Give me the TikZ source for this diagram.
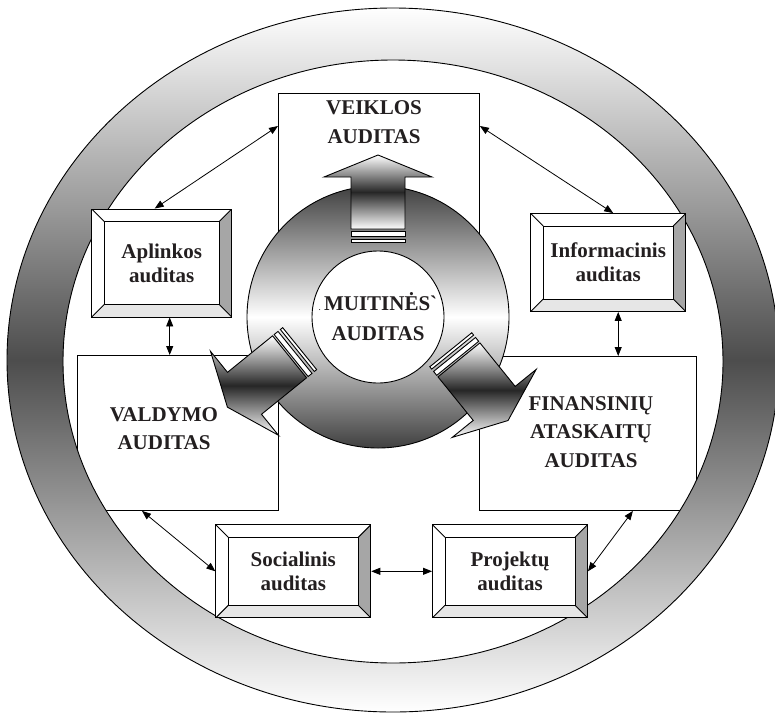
\documentclass[tikz,border=0pt]{standalone}
\usepackage{fontspec}
\setmainfont{Liberation Serif}
\usetikzlibrary{arrows.meta,calc}
\definecolor{ink}{HTML}{231F20}
\definecolor{bevelside}{HTML}{A6A6A6}
\definecolor{bevelfoot}{HTML}{E6E6E6}
\begin{document}
\begin{tikzpicture}[x=1pt, y=-1pt, line width=0.9pt,
    bigbox/.style={draw, fill=white, anchor=north west, inner sep=0pt},
    bigtext/.style={inner sep=0pt, align=center, text=ink,
      font=\fontsize{21}{28.5}\selectfont\bfseries},
    bevelbox/.style={draw, fill=white, inner sep=0pt, align=center, text=ink,
      font=\fontsize{21}{24}\selectfont\bfseries,
      path picture={
        \path (path picture bounding box.north west) coordinate (bNW)
              (path picture bounding box.north east) coordinate (bNE)
              (path picture bounding box.south west) coordinate (bSW)
              (path picture bounding box.south east) coordinate (bSE);
        \path ($(bNW)+(12.5pt,-12.5pt)$) coordinate (iNW)
              ($(bNE)+(-12.5pt,-12.5pt)$) coordinate (iNE)
              ($(bSW)+(12.5pt,12.5pt)$) coordinate (iSW)
              ($(bSE)+(-12.5pt,12.5pt)$) coordinate (iSE);
        \fill[bevelside] (bNE) -- (bSE) -- (iSE) -- (iNE) -- cycle;
        \fill[bevelfoot] (bSW) -- (bSE) -- (iSE) -- (iSW) -- cycle;
        \draw[line width=0.9pt] (iNW) rectangle (iSE);
        \draw[line width=0.9pt] (bNW) -- (iNW) (bNE) -- (iNE)
          (bSW) -- (iSW) (bSE) -- (iSE);
      }},
    link/.style={<->, >={Triangle[length=9pt,width=7pt]}, line width=0.8pt},
    arrowshade/.style={draw, top color=white, bottom color=white, middle color=black!85},
  ]
  \fill[white] (0,0) rectangle (775,715);
  \useasboundingbox (0,0) rectangle (775,715);

  % large audit areas
  \node[bigbox, minimum width=201pt, minimum height=224pt] (veiklos) at (278,93) {};
  \node[bigbox, minimum width=201pt, minimum height=155pt] (valdymo) at (77,355) {};
  \node[bigbox, minimum width=217pt, minimum height=154pt] (finansiniu) at (479,356) {};

  % outer ring
  \shadedraw[even odd rule, top color=white, bottom color=white, middle color=black!70]
    (393,360) ellipse [x radius=386, y radius=352]
    (393,361.5) ellipse [x radius=330, y radius=301.5];

  \node[bigtext] (veiklostxt) at (374,122) {VEIKLOS\\AUDITAS};
  \node[bigtext] (valdymotxt) at (164,428.5) {VALDYMO\\AUDITAS};
  \node[bigtext] (finansiniutxt) at (591,432) {FINANSINIŲ\\ATASKAITŲ\\AUDITAS};

  % small audit areas
  \node[bevelbox, minimum width=140pt, minimum height=108pt] (aplinkos) at (161.7,263) {Aplinkos\\auditas};
  \node[bevelbox, minimum width=155pt, minimum height=98pt] (informacinis) at (608.2,262.5) {Informacinis\\auditas};
  \node[bevelbox, minimum width=155pt, minimum height=93pt] (socialinis) at (293.3,571.3) {Socialinis\\auditas};
  \node[bevelbox, minimum width=155pt, minimum height=93pt] (projektu) at (510,571.3) {Projektų\\auditas};

  \draw[link] ([yshift=-33pt]veiklos.north west) -- ([xshift=-7pt]aplinkos.north);
  \draw[link] ([yshift=-33pt]veiklos.north east) -- ([xshift=5pt]informacinis.north);
  \draw[link] ([xshift=8pt]aplinkos.south) -- ([xshift=8pt]aplinkos.south |- valdymo.north);
  \draw[link] ([xshift=10pt]informacinis.south) -- ([xshift=10pt]informacinis.south |- finansiniu.north);
  \draw[link] ([xshift=65pt]valdymo.south west) -- (socialinis.west);
  \draw[link] (socialinis.east) -- (projektu.west);
  \draw[link] ([xshift=-64pt]finansiniu.south east) -- (projektu.east);

  % customs audit in the centre
  \coordinate (centre) at (378,317);
  \shadedraw[top color=black!75, bottom color=black!75, middle color=white]
    (centre) circle [radius=131];
  \node[circle, draw, fill=white, minimum size=132pt, inner sep=0pt, align=center,
    text=ink, font=\fontsize{21}{30}\selectfont\bfseries] (muitines) at (centre)
    {{\fontsize{7}{7}\selectfont.}\,MUITINĖS\textasciigrave\\AUDITAS};

  \foreach \ang/\hx/\hy/\len in {270/378/177/52, 141/244.5/393.3/58, 51/494.2/403.4/56}{
    \coordinate (head) at (\hx,\hy);
    \shadedraw[arrowshade] ($(head)+(\ang:22)$)
      -- ($(head)+(\ang+90:54)$) -- ($(head)+(\ang+90:27)$)
      -- ($(head)+(\ang+90:27)+(\ang+180:\len)$)
      -- ($(head)+(\ang-90:27)+(\ang+180:\len)$)
      -- ($(head)+(\ang-90:27)$) -- ($(head)+(\ang-90:54)$) -- cycle;
    \foreach \near/\far in {2/7, 10/13}
      \draw[fill=white] ($(head)+(\ang+90:27)+(\ang+180:\len+\near)$)
        -- ($(head)+(\ang+90:27)+(\ang+180:\len+\far)$)
        -- ($(head)+(\ang-90:27)+(\ang+180:\len+\far)$)
        -- ($(head)+(\ang-90:27)+(\ang+180:\len+\near)$) -- cycle;
  }
\end{tikzpicture}
\end{document}
